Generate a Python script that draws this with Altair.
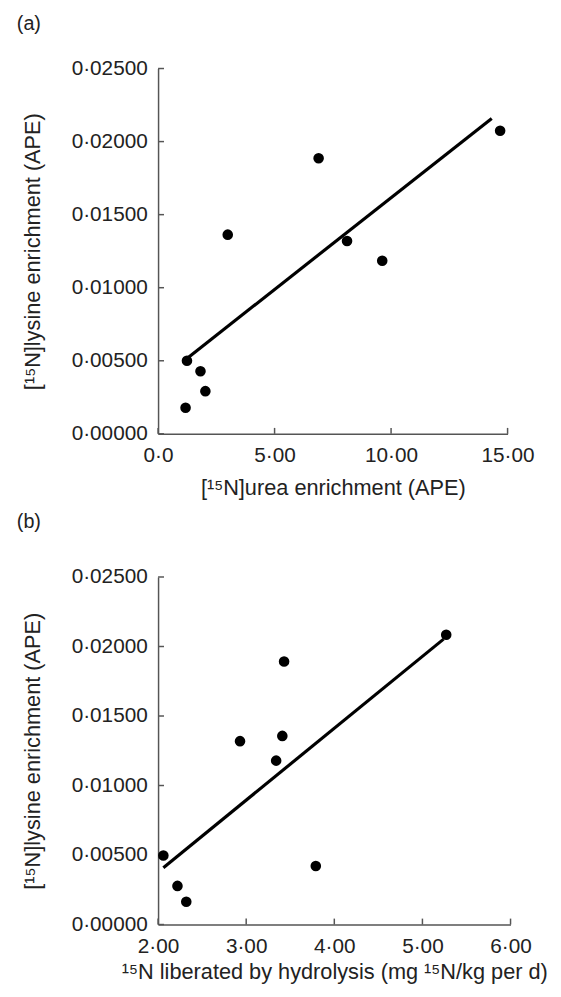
import altair as alt
import pandas as pd

# Panel (a): [15N]urea enrichment vs [15N]lysine enrichment
a_x = [1.18, 1.24, 1.82, 2.03, 2.99, 6.89, 8.11, 9.62, 14.68]
a_y = [0.00179, 0.00500, 0.00428, 0.00292, 0.01363, 0.01886, 0.01320, 0.01184, 0.02074]
a_fit_x = [1.24, 14.32]
a_fit_y = [0.00516, 0.02158]

# Panel (b): 15N liberated by hydrolysis vs [15N]lysine enrichment
b_x = [2.06, 2.22, 2.32, 2.93, 3.34, 3.41, 3.43, 3.79, 5.27]
b_y = [0.00497, 0.00278, 0.00164, 0.01319, 0.01179, 0.01357, 0.01892, 0.00421, 0.02084]
b_fit_x = [2.06, 5.24]
b_fit_y = [0.00409, 0.02053]

y_ticks = [0, 0.005, 0.01, 0.015, 0.02, 0.025]
a_x_ticks = [0, 5, 10, 15]
b_x_ticks = [2, 3, 4, 5, 6]

FONT = "Liberation Sans"
TXT = "#222222"
AX = "#555555"


def panel(px, py, fx, fy, xticks, xdomain, xlabel_expr, xtitle, label, w, h, toff, xtpad):
    xs = alt.Scale(domain=xdomain, nice=False, zero=False)
    ys = alt.Scale(domain=[0, 0.025], nice=False)
    pts = pd.DataFrame({"x": px, "y": py})
    fit = pd.DataFrame({"x": fx, "y": fy})
    xt = pd.DataFrame({"x": xticks})
    yt = pd.DataFrame({"y": y_ticks})

    points = alt.Chart(pts).mark_circle(size=115, color="black", opacity=1).encode(
        x=alt.X("x:Q", scale=xs, axis=alt.Axis(values=xticks, labelExpr=xlabel_expr,
                                               title=xtitle, titlePadding=xtpad)),
        y=alt.Y("y:Q", scale=ys, axis=alt.Axis(
            values=y_ticks,
            labelExpr="replace(format(datum.value, '.5f'), '.', '·')",
            title="[¹⁵N]lysine enrichment (APE)", titlePadding=27)),
    )
    line = alt.Chart(fit).mark_line(color="black", strokeWidth=3.2).encode(
        x=alt.X("x:Q", scale=xs), y=alt.Y("y:Q", scale=ys)
    )
    xtick = alt.Chart(xt).mark_rule(color=AX, strokeWidth=1.5).encode(
        x=alt.X("x:Q", scale=xs), y=alt.value(h), y2=alt.value(h - 6)
    )
    ytick = alt.Chart(yt).mark_rule(color=AX, strokeWidth=1.5).encode(
        y=alt.Y("y:Q", scale=ys), x=alt.value(0), x2=alt.value(6)
    )
    return alt.layer(xtick, ytick, line, points).properties(
        width=w, height=h,
        title=alt.TitleParams(label, anchor="start", frame="bounds", dx=-5, offset=toff,
                              font=FONT, fontSize=20, fontWeight="normal", color=TXT),
    )


a = panel(a_x, a_y, a_fit_x, a_fit_y, a_x_ticks, [0, 15],
          "datum.value == 0 ? '0·0' : replace(format(datum.value, '.2f'), '.', '·')",
          "[¹⁵N]urea enrichment (APE)", "(a)", 354, 370, 24, 12)
b = panel(b_x, b_y, b_fit_x, b_fit_y, b_x_ticks, [2, 6],
          "replace(format(datum.value, '.2f'), '.', '·')",
          "¹⁵N liberated by hydrolysis (mg ¹⁵N/kg per d)", "(b)", 357, 352, 35, 6)

chart = alt.vconcat(a, b, spacing=14).properties(
    padding={"left": 8, "top": 0, "right": 5, "bottom": 0}
).configure_view(stroke=None).configure_axis(
    grid=False, domainColor=AX, domainWidth=1.5, tickSize=0, labelFlush=False,
    labelFont=FONT, labelFontSize=21, labelColor=TXT, labelPadding=11,
    titleFont=FONT, titleFontSize=22, titleFontWeight="normal", titleColor=TXT,
)

chart.save("out.html", embed_options={"renderer": "svg", "actions": False})
